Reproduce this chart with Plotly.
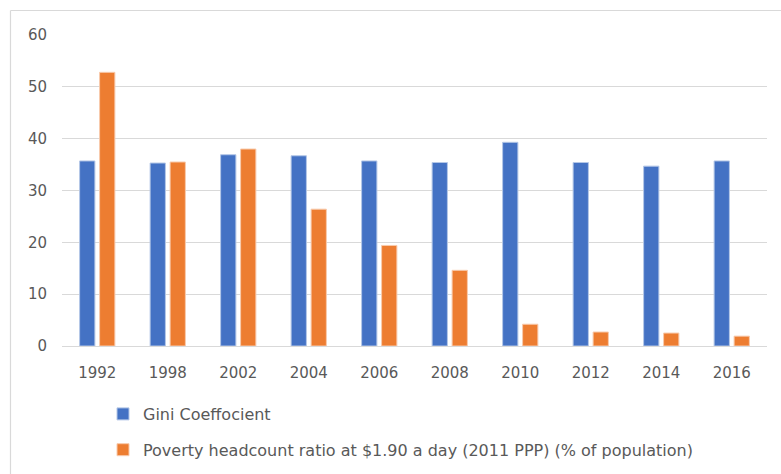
import plotly.graph_objects as go

years = ["1992", "1998", "2002", "2004", "2006", "2008", "2010", "2012", "2014", "2016"]
gini = [35.7, 35.3, 36.9, 36.7, 35.7, 35.4, 39.3, 35.4, 34.7, 35.7]
poverty = [52.8, 35.5, 38.0, 26.4, 19.4, 14.6, 4.2, 2.7, 2.5, 1.9]
y_ticks = [0, 10, 20, 30, 40, 50, 60]

W, H = 781, 474
L, R, T, B = 62, 14, 35, 128
FONT = "DejaVu Sans"
GRAY = "#595959"

fig = go.Figure()
fig.add_trace(go.Bar(x=years, y=gini, name="Gini Coeffocient", legendgroup="a",
                     marker=dict(color="#4472C4", line=dict(color="#B4C7E7", width=1))))
fig.add_trace(go.Bar(x=years, y=poverty,
                     name="Poverty headcount ratio at $1.90 a day (2011 PPP) (% of population)",
                     legendgroup="b",
                     marker=dict(color="#ED7D31", line=dict(color="#F8CBAD", width=1))))

pw = W - L - R
ph = H - T - B
def px_to_paper_x(px):
    return (px - L) / pw
def px_to_paper_y(py):
    return (H - B - py) / ph

shapes = [
    dict(type="line", xref="paper", yref="paper",
         x0=px_to_paper_x(10.5), x1=px_to_paper_x(10.5),
         y0=px_to_paper_y(10.5), y1=px_to_paper_y(H + 2),
         line=dict(color="#D9D9D9", width=1.2)),
    dict(type="line", xref="paper", yref="paper",
         x0=px_to_paper_x(10.5), x1=px_to_paper_x(W + 2),
         y0=px_to_paper_y(10.5), y1=px_to_paper_y(10.5),
         line=dict(color="#D9D9D9", width=1.2)),
]

fig.update_layout(
    width=W, height=H,
    margin=dict(l=L, r=R, t=T, b=B, pad=0, autoexpand=False),
    paper_bgcolor="white", plot_bgcolor="white",
    barmode="group", bargap=0.433, bargroupgap=0.235,
    font=dict(family=FONT, size=15, color=GRAY),
    xaxis=dict(type="category", showgrid=False, showline=False, ticks="", tickangle=0,
               tickfont=dict(family=FONT, size=15, color=GRAY), ticklabelstandoff=16),
    yaxis=dict(range=[0, 60], tickvals=y_ticks, showgrid=True, gridcolor="#D9D9D9",
               gridwidth=1, zeroline=True, zerolinecolor="#D9D9D9", zerolinewidth=1,
               showline=False, ticks="", tickfont=dict(family=FONT, size=15, color=GRAY),
               ticklabelstandoff=14),
    legend=dict(orientation="v", xref="container", yref="container",
                x=103 / W, y=1 - 397 / H, xanchor="left", yanchor="top",
                tracegroupgap=12, font=dict(family=FONT, size=16, color=GRAY),
                itemwidth=30, traceorder="grouped"),
    shapes=shapes,
)

fig.write_html("out.html")
